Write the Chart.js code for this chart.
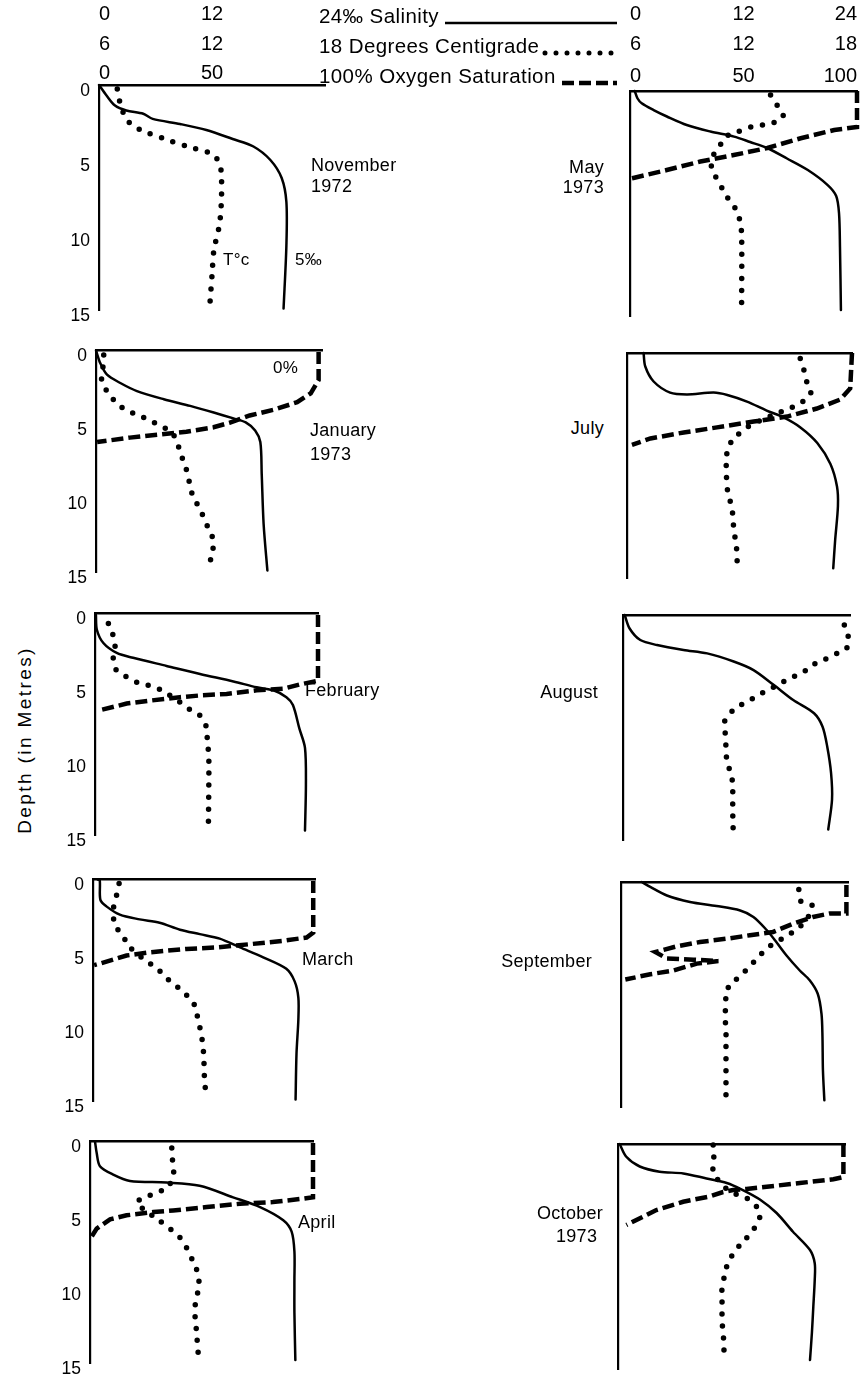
<!DOCTYPE html>
<html>
<head>
<meta charset="utf-8">
<script src="https://cdn.jsdelivr.net/npm/chart.js@4.4.1/dist/chart.umd.min.js"></script>
<style>
  html, body { margin: 0; padding: 0; background: #fff; overflow: hidden; }
  body { width: 862px; height: 1380px; position: relative;
         font-family: "Liberation Sans", Arial, Helvetica, sans-serif; color: #000; }
  .pane { position: absolute; }
  .txt { position: absolute; white-space: nowrap; font-size: 18px; line-height: 21px; letter-spacing: 0.3px; }
  .key { position: absolute; left: 319px; width: 298px; height: 22px; display: flex;
         font-size: 20.5px; line-height: 22px; letter-spacing: 0.4px; white-space: nowrap; }
  .key svg { flex: 1; height: 22px; margin-left: 2px; }
  .ylab { position: absolute; left: 25px; top: 740px; font-size: 19px; letter-spacing: 2.4px;
          transform: translate(-50%, -50%) rotate(-90deg); white-space: nowrap; }
</style>
</head>
<body>
<script>
// ---- Axis tick values ----
const salinityTicks = [0, 12, 24];        // ‰
const temperatureTicks = [6, 12, 18];     // °C
const oxygenTicks = [0, 50, 100];         // % saturation
const depthTicks = [0, 5, 10, 15];        // metres

// ---- Profiles: [depth (m), value] ----
// November 1972
const novSalinity = [[0,0],[0.7,0.8],[1.37,1.7],[1.7,2.9],[1.92,4.7],[2.26,5.7],[2.6,8.6],[3.0,11.4],[3.6,14.2],[4.1,16.4],[5.0,18.2],[6.2,19.4],[7.8,19.9],[10.7,19.9],[14.9,19.6]];
const novTemperature = [[0.27,6.97],[1.1,7.1],[2.2,7.4],[2.7,7.8],[3.1,8.4],[3.6,9.5],[4.1,10.7],[4.6,12.0],[5.2,12.4],[6.0,12.5],[7.7,12.5],[9.3,12.4],[11.0,12.1],[12.7,12.0],[14.4,11.9]];

// May 1973
const maySalinity = [[0,0.5],[0.5,0.8],[0.82,1.24],[1.27,2.5],[1.7,3.9],[2.27,6.0],[2.7,8.5],[3.04,11.0],[3.4,12.7],[3.8,14.5],[4.5,16.6],[5.27,18.8],[6.27,20.9],[7.0,21.8],[8.15,22.1],[10.4,22.2],[14.6,22.3]];
const mayTemperature = [[0.27,13.43],[1.0,13.8],[1.7,14.1],[2.1,13.6],[2.27,13.0],[2.4,12.4],[2.7,11.75],[2.93,11.2],[3.4,10.9],[4.0,10.5],[5.0,10.3],[5.9,10.6],[6.55,10.9],[7.2,11.2],[7.9,11.6],[8.6,11.8],[9.5,11.9],[14.4,11.9]];
const mayOxygen = [[0,100],[2.4,100],[2.6,90],[3.15,75.2],[3.8,60.5],[4.27,45.7],[4.7,31],[5.27,16.2],[5.8,1.5],[5.85,0]];

// January 1973
const janSalinity = [[0,0],[0.87,0.46],[1.64,1.17],[2.2,2.58],[2.75,4.35],[3.3,7.2],[3.75,10.0],[4.2,12.5],[4.6,14.6],[4.87,15.9],[5.42,16.9],[6.2,17.45],[8.4,17.6],[11.75,17.8],[14.9,18.2]];
const janTemperature = [[0.3,6.41],[1.1,6.37],[2.0,6.3],[2.75,6.58],[3.64,7.15],[4.1,7.7],[4.4,8.3],[4.75,8.9],[5.1,9.4],[5.5,10.0],[6.2,10.3],[7.0,10.5],[7.7,10.7],[8.5,10.9],[9.3,11.0],[10.0,11.2],[10.7,11.5],[11.4,11.75],[12.15,12.0],[12.9,12.25],[13.75,12.16],[14.6,12.0]];
const janOxygen = [[0.1,98.5],[2.0,98.5],[2.9,95],[3.5,89],[4.0,79],[4.4,68],[4.9,59],[5.2,52],[5.5,40],[5.7,27],[5.9,15],[6.2,0.5]];

// July 1973
const julSalinity = [[0,1.77],[0.9,1.95],[1.9,2.84],[2.64,4.6],[2.76,6.4],[2.64,9.24],[2.8,10.7],[3.24,12.8],[3.84,14.9],[4.29,16.7],[4.96,18.5],[6.0,20.3],[7.4,21.7],[8.9,22.4],[10.2,22.5],[12.5,22.2],[14.35,22.0]];
const julTemperature = [[0.36,15.24],[1.24,15.46],[1.98,15.6],[2.7,15.8],[3.24,15.37],[3.62,14.8],[3.98,14.1],[4.45,13.2],[4.96,12.4],[5.5,11.87],[6.24,11.4],[7.1,11.3],[8.1,11.3],[9.24,11.37],[10.36,11.6],[11.8,11.7],[12.6,11.8],[13.4,11.87],[14.3,11.87]];
const julOxygen = [[0,100],[2.36,99.2],[3.1,94.8],[3.7,84.4],[4.24,71.1],[4.57,56.3],[4.96,40],[5.3,25.2],[5.7,10.4],[6.13,2.2]];

// February 1973
const febSalinity = [[0.1,0.1],[1.1,0.2],[2.0,0.9],[2.67,2.34],[3.0,4.1],[3.55,7.7],[4.1,11.3],[4.6,14.9],[5.0,17.4],[5.2,19.2],[5.67,20.6],[6.2,21.3],[7.8,22.0],[9.1,22.6],[11.6,22.7],[14.7,22.6]];
const febTemperature = [[0.67,6.72],[1.38,6.95],[2.2,7.08],[3.0,6.98],[3.8,7.13],[4.27,7.67],[4.67,8.28],[4.9,8.96],[5.2,9.6],[6.0,10.57],[6.5,11.1],[6.9,11.65],[7.7,12.0],[8.45,12.04],[9.3,12.1],[10.2,12.13],[14.7,12.1]];
const febOxygen = [[0.1,100],[4.55,100],[4.8,92],[5.1,84.4],[5.2,72.5],[5.45,59],[5.55,47],[5.67,38],[5.9,24.7],[6.1,14.2],[6.55,2.2]];

// August 1973
const augSalinity = [[0,0.18],[0.9,0.7],[1.67,1.83],[2.0,3.6],[2.33,6.4],[2.56,8.9],[3.1,11.7],[3.67,13.8],[4.67,15.95],[5.67,18.0],[6.55,20.2],[7.45,21.1],[8.8,21.6],[10.55,22.0],[12.3,22.1],[14.3,21.7]];
const augTemperature = [[0.67,17.7],[1.4,17.9],[2.1,17.9],[2.5,17.4],[2.9,16.8],[3.2,16.2],[3.67,15.7],[4.0,15.2],[4.33,14.65],[4.73,14.1],[5.1,13.5],[5.5,12.97],[5.85,12.44],[6.27,11.9],[6.95,11.4],[7.78,11.4],[8.73,11.44],[9.84,11.5],[10.67,11.74],[11.67,11.8],[12.4,11.8],[13.2,11.8],[14.07,11.82],[14.8,11.82]];

// March 1973
const marSalinity = [[0,0.5],[0.05,0.73],[1.38,0.8],[1.82,1.45],[2.38,2.9],[2.7,5.05],[2.93,7.2],[3.4,9.4],[3.7,11.55],[4.0,13.7],[4.6,15.9],[5.27,18.4],[6.05,20.9],[6.9,21.8],[8.0,22.2],[9.5,22.2],[11.8,22.0],[14.9,21.9]];
const marTemperature = [[0.27,7.41],[1.15,7.26],[2.0,7.1],[3.05,7.17],[3.8,7.6],[4.6,8.0],[5.5,8.85],[6.05,9.5],[6.6,9.9],[7.1,10.4],[7.65,10.9],[8.27,11.4],[9.05,11.6],[9.8,11.74],[10.6,11.87],[11.4,11.95],[12.15,12.0],[12.9,12.0],[13.8,12.05],[14.6,12.1]];
const marOxygen = [[0.1,99.2],[3.6,99.2],[3.93,96.2],[4.15,85.7],[4.38,70.7],[4.6,55.6],[4.7,42.1],[4.93,25.6],[5.15,15.1],[5.7,3.0],[5.8,0.5]];

// September 1973
const sepSalinity = [[0,2.2],[0.33,3.1],[0.9,4.85],[1.33,7.3],[1.6,10.1],[1.9,12.6],[2.33,14.0],[3.2,15.4],[3.9,16.3],[4.9,17.5],[5.9,18.9],[6.55,19.95],[7.45,20.8],[8.8,21.2],[10.3,21.3],[12.55,21.35],[14.55,21.5]];
const sepTemperature = [[0.5,15.4],[1.27,15.5],[1.55,16.1],[2.55,15.8],[3.2,15.24],[3.67,14.66],[4.33,13.8],[4.95,13.3],[5.5,12.9],[6.07,12.46],[6.6,12.0],[7.27,11.55],[8.07,11.55],[8.95,11.5],[9.84,11.55],[10.67,11.55],[11.44,11.55],[12.2,11.55],[13.0,11.55],[13.8,11.55],[14.55,11.55]];
const sepOxygen = [[0.2,99.3],[2.1,99.3],[2.1,91.9],[2.33,84.6],[2.78,75.8],[3.33,67],[3.55,56.8],[3.78,46.6],[4.0,34.8],[4.29,24.6],[4.67,15.1],[5.1,20.2],[5.18,31.9],[5.27,42.9],[5.44,33.4],[5.9,23.1],[6.15,12.9],[6.5,1.9]];

// April 1973
const aprSalinity = [[0,0.54],[0.78,0.72],[1.67,1.07],[2.24,2.5],[2.67,4.3],[2.78,8.24],[3.0,11.8],[3.78,15.4],[4.44,18.3],[5.33,20.8],[6.1,21.7],[7.45,22.0],[9.4,22.0],[11.6,22.0],[14.8,22.1]];
const aprTemperature = [[0.44,10.4],[1.27,10.44],[2.1,10.5],[3.1,10.2],[3.44,9.6],[3.78,9.0],[4.1,8.5],[4.6,8.9],[5.33,9.7],[5.9,10.3],[6.44,10.8],[7.2,11.2],[8.0,11.5],[8.9,11.8],[9.84,11.87],[10.67,11.7],[11.56,11.64],[12.4,11.7],[13.2,11.75],[14.0,11.8],[14.8,11.85]];
const aprOxygen = [[0.1,100],[3.78,100],[3.9,94],[4.1,82],[4.22,67.2],[4.44,52.3],[4.67,37.3],[4.78,28.4],[5.0,16.4],[5.27,9.0],[5.9,3.0],[6.45,0.7]];

// October 1973
const octSalinity = [[0,0.18],[0.85,0.88],[1.5,2.3],[1.85,4.4],[1.96,6.9],[2.3,9.36],[2.6,11.5],[3.07,13.2],[3.7,15.0],[4.6,16.77],[5.85,18.5],[7.07,20.3],[7.95,20.8],[9.07,20.8],[10.85,20.65],[12.6,20.5],[14.4,20.3]];
const octTemperature = [[0.07,11.03],[1.1,11.07],[1.9,11.03],[2.85,11.6],[3.33,12.2],[3.6,12.8],[4.4,13.46],[5.1,13.46],[5.8,13.1],[6.4,12.7],[7.1,12.2],[7.95,11.8],[8.7,11.65],[9.5,11.5],[10.3,11.5],[11.07,11.5],[11.85,11.5],[12.6,11.56],[13.5,11.6],[14.3,11.6]];
const octOxygen = [[0.07,99.3],[2.2,99.3],[2.35,94.9],[2.6,80.1],[2.85,65.5],[3.0,56.6],[3.07,50.7],[3.2,46.3],[3.5,40.4],[3.85,28.7],[4.4,16.9],[5.4,3.7]];

// ---- Page layout ----
const FONT = '"Liberation Sans", Arial, Helvetica, sans-serif';
const PANEL_H = 225;               // 15 m of depth
// chart-area frames [left, top, width] per row: [left column, right column]
const FRAMES = [
  [[99, 85, 226], [630, 91, 227]],
  [[96, 347, 226], [627, 353, 225]],
  [[95, 610, 223], [623, 615, 227]],
  [[93, 876, 222], [621, 882, 227]],
  [[90, 1138, 223], [618, 1144, 227]]
];
const HEADER_ROWS = { sal: 16, tmp: 46, oxy: 76 };   // label centre lines
const HEADER_SIZE = 20;

const panels = [
  { row: 0, col: 0, sal: novSalinity, tmp: novTemperature, oxy: null },
  { row: 0, col: 1, sal: maySalinity, tmp: mayTemperature, oxy: mayOxygen },
  { row: 1, col: 0, sal: janSalinity, tmp: janTemperature, oxy: janOxygen },
  { row: 1, col: 1, sal: julSalinity, tmp: julTemperature, oxy: julOxygen },
  { row: 2, col: 0, sal: febSalinity, tmp: febTemperature, oxy: febOxygen },
  { row: 2, col: 1, sal: augSalinity, tmp: augTemperature, oxy: null },
  { row: 3, col: 0, sal: marSalinity, tmp: marTemperature, oxy: marOxygen },
  { row: 3, col: 1, sal: sepSalinity, tmp: sepTemperature, oxy: sepOxygen },
  { row: 4, col: 0, sal: aprSalinity, tmp: aprTemperature, oxy: aprOxygen },
  { row: 4, col: 1, sal: octSalinity, tmp: octTemperature, oxy: octOxygen }
];

const toPoints = pairs => pairs.map(([d, v]) => ({ x: v, y: d }));

function headerAxis(ticks, weight, height, padding, hideLast) {
  return {
    axis: 'x', type: 'linear', position: 'top', weight,
    min: ticks[0], max: ticks[ticks.length - 1],
    afterBuildTicks: s => { s.ticks = ticks.map(v => ({ value: v })); },
    afterFit: s => { s.height = height; },
    grid: { display: false, drawTicks: false },
    border: { display: false },
    ticks: {
      display: true, padding, align: 'inner', maxRotation: 0, autoSkip: false,
      color: '#000', font: { family: FONT, size: HEADER_SIZE },
      callback: (v, i, arr) => (hideLast && i === arr.length - 1) ? '' : String(v)
    }
  };
}

function hiddenAxis(ticks) {
  return { axis: 'x', type: 'linear', position: 'top', display: false,
           min: ticks[0], max: ticks[ticks.length - 1] };
}

function buildPanel(p) {
  const [x0, y0, w] = FRAMES[p.row][p.col];
  const isLeft = p.col === 0, isTop = p.row === 0;
  const yLabW = 45, padR = 12, padB = 24, padTop = 16;
  const padL = isLeft ? yLabW : 10;
  const padT = isTop ? y0 : padTop;
  const W = w + padL + padR, H = PANEL_H + padT + padB;

  const holder = document.createElement('div');
  holder.className = 'pane';
  holder.style.left = (x0 - padL) + 'px';
  holder.style.top = (y0 - padT) + 'px';
  const cv = document.createElement('canvas');
  cv.width = W; cv.height = H;
  cv.style.width = W + 'px'; cv.style.height = H + 'px';
  holder.appendChild(cv);
  document.body.appendChild(holder);

  const lh = HEADER_SIZE * 1.2;
  let scales;
  if (isTop) {
    // three stacked scales above the profile: salinity, temperature, oxygen
    const oxyH = y0 - 56;
    const oxyPad = Math.max(0, Math.round(y0 - HEADER_ROWS.oxy - lh / 2));
    const tmpPad = Math.max(0, Math.round(56 - HEADER_ROWS.tmp - lh / 2));
    const salPad = Math.max(0, Math.round(26 - HEADER_ROWS.sal - lh / 2));
    scales = {
      sal: headerAxis(salinityTicks, 3, 26, salPad, isLeft),
      tmp: headerAxis(temperatureTicks, 2, 30, tmpPad, isLeft),
      oxy: headerAxis(oxygenTicks, 1, oxyH, oxyPad, isLeft)
    };
    scales.oxy.border = { display: true, color: '#000', width: 2.6 };
  } else {
    scales = {
      sal: hiddenAxis(salinityTicks),
      tmp: hiddenAxis(temperatureTicks),
      oxy: {
        axis: 'x', type: 'linear', position: 'top',
        min: oxygenTicks[0], max: oxygenTicks[oxygenTicks.length - 1],
        afterFit: s => { s.height = 0; },
        grid: { display: false, drawTicks: false },
        border: { display: true, color: '#000', width: 2.6 },
        ticks: { display: false }
      }
    };
  }
  scales.y = {
    axis: 'y', type: 'linear', position: 'left', reverse: true,
    min: depthTicks[0], max: depthTicks[depthTicks.length - 1],
    afterBuildTicks: s => { s.ticks = depthTicks.map(v => ({ value: v })); },
    afterFit: s => { s.width = isLeft ? yLabW : 0; },
    grid: { display: false, drawTicks: false },
    border: { display: true, color: '#000', width: 2.2 },
    ticks: { display: isLeft, padding: 9, labelOffset: 6, color: '#000',
             font: { family: FONT, size: 17.5 } }
  };

  const datasets = [
    { data: toPoints(p.sal), xAxisID: 'sal', yAxisID: 'y', borderColor: '#000',
      borderWidth: 2.5, tension: 0.3, borderJoinStyle: 'round', borderCapStyle: 'round' },
    { data: toPoints(p.tmp), xAxisID: 'tmp', yAxisID: 'y', borderColor: '#000',
      borderWidth: 5.5, tension: 0.25, borderDash: [0, 12], borderCapStyle: 'round' }
  ];
  if (p.oxy) {
    datasets.push({ data: toPoints(p.oxy), xAxisID: 'oxy', yAxisID: 'y', borderColor: '#000',
      borderWidth: 4.5, tension: 0, borderDash: [12, 5], borderCapStyle: 'butt' });
  }
  datasets.forEach(d => { d.showLine = true; d.pointRadius = 0; d.fill = false; d.clip = false; });

  new Chart(cv, {
    type: 'scatter',
    data: { datasets },
    options: {
      responsive: false, animation: false, devicePixelRatio: 1,
      layout: { padding: { left: isLeft ? 0 : padL, right: padR, top: isTop ? 0 : padT, bottom: padB } },
      plugins: { legend: { display: false }, tooltip: { enabled: false } },
      scales
    }
  });
}

panels.forEach(buildPanel);

// ---- Text: key, month names, notes ----
function addText(html, left, centreY, opts = {}) {
  const d = document.createElement('div');
  d.className = 'txt';
  d.innerHTML = html;
  const lh = opts.lh || 21;
  d.style.lineHeight = lh + 'px';
  if (opts.size) d.style.fontSize = opts.size + 'px';
  if (opts.right !== undefined) { d.style.right = (862 - opts.right) + 'px'; d.style.textAlign = 'right'; }
  else d.style.left = left + 'px';
  d.style.top = (centreY - lh / 2) + 'px';
  document.body.appendChild(d);
}

function addKey(label, centreY, stroke) {
  const d = document.createElement('div');
  d.className = 'key';
  d.style.top = (centreY - 11) + 'px';
  d.innerHTML = '<span>' + label + '</span>' +
    '<svg><line x1="4" y1="18" x2="100%" y2="18" stroke="#000" ' + stroke + '/></svg>';
  document.body.appendChild(d);
}
addKey(salinityTicks[2] + '‰ Salinity', HEADER_ROWS.sal, 'stroke-width="2.4"');
addKey(temperatureTicks[2] + ' Degrees Centigrade', HEADER_ROWS.tmp,
       'stroke-width="5" stroke-linecap="round" stroke-dasharray="0 11"');
addKey(oxygenTicks[2] + '% Oxygen Saturation', HEADER_ROWS.oxy,
       'stroke-width="4.5" stroke-dasharray="12 5"');

addText('November<br>1972', 311, 165);
addText('May<br>1973', 0, 167, { right: 604, lh: 20 });
addText('January<br>1973', 310, 430, { lh: 24 });
addText('July', 0, 428, { right: 604 });
addText('February', 305, 690);
addText('August', 0, 692, { right: 598 });
addText('March', 302, 959);
addText('September', 0, 961, { right: 592 });
addText('April', 298, 1222);
addText('October', 537, 1213);
addText('1973', 556, 1236);
addText('T°c', 223, 259, { size: 17 });
addText('5‰', 295, 259, { size: 17 });
addText('0%', 273, 367, { size: 17 });

const yl = document.createElement('div');
yl.className = 'ylab';
yl.textContent = 'Depth (in Metres)';
document.body.appendChild(yl);
</script>
</body>
</html>
